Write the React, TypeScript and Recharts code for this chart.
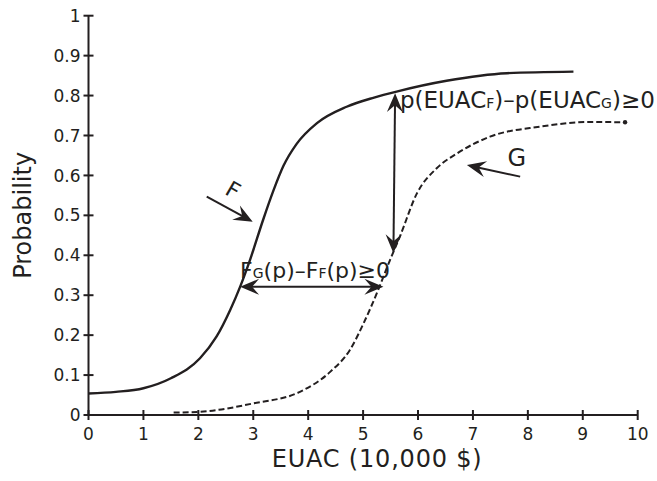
import React from 'react';
import { ComposedChart, Line, XAxis, YAxis, ReferenceLine, ReferenceDot, Label } from 'recharts';

// Curve F (solid)
const curveFx = [0, 0.5, 1.0, 1.5, 2.03, 2.33, 2.58, 2.76, 2.94, 3.18, 3.37, 3.55, 3.79, 4.16, 4.7, 5.2, 5.61, 6.52, 7.62, 8.83];
const curveFy = [0.054, 0.058, 0.067, 0.092, 0.142, 0.196, 0.263, 0.321, 0.388, 0.489, 0.563, 0.624, 0.679, 0.731, 0.772, 0.795, 0.81, 0.837, 0.856, 0.86];
// Curve G (dashed)
const curveGx = [1.55, 2.03, 3.0, 3.85, 4.4, 4.76, 5.01, 5.25, 5.49, 5.67, 5.98, 6.34, 6.71, 7.31, 8.22, 9.13, 9.77];
const curveGy = [0.006, 0.008, 0.029, 0.058, 0.108, 0.163, 0.23, 0.305, 0.388, 0.447, 0.555, 0.618, 0.655, 0.697, 0.722, 0.734, 0.733];

const xTicks = [0, 1, 2, 3, 4, 5, 6, 7, 8, 9, 10];
const yTicks = [0, 0.1, 0.2, 0.3, 0.4, 0.5, 0.6, 0.7, 0.8, 0.9, 1];
const yTickLabels = ['0', '0.1', '0.2', '0.3', '0.4', '0.5', '0.6', '0.7', '0.8', '0.9', '1'];

// Annotation arrows [x1, y1, x2, y2] in data units
const arrowVertical = [5.583, 0.806, 5.552, 0.405];
const arrowHorizontal = [2.76, 0.321, 5.37, 0.321];
const arrowF = [2.153, 0.547, 2.99, 0.484];
const arrowG = [7.86, 0.597, 6.89, 0.626];

// Annotation text anchors
const labelPAt = [5.67, 0.769];
const labelFGAt = [2.76, 0.343];
const labelFAt = [2.63, 0.563];
const labelGAt = [7.8, 0.644];

const INK = '#231f20';
const FONT = '"DejaVu Sans", sans-serif';

const fData = curveFx.map((x, i) => ({ x, y: curveFy[i] }));
const gData = curveGx.map((x, i) => ({ x, y: curveGy[i] }));

const headPoly = (tx: number, ty: number, ux: number, uy: number) => {
  const L = 19, W = 8, N = 12;
  const nx = -uy, ny = ux;
  return `${tx},${ty} ${tx - L * ux + W * nx},${ty - L * uy + W * ny} ${tx - N * ux},${ty - N * uy} ${tx - L * ux - W * nx},${ty - L * uy - W * ny}`;
};

const arrowShape = (both: boolean) => (p: any) => {
  const { x1, y1, x2, y2 } = p;
  const dx = x2 - x1, dy = y2 - y1;
  const len = Math.sqrt(dx * dx + dy * dy) || 1;
  const ux = dx / len, uy = dy / len;
  const sx = both ? x1 + ux * 10 : x1;
  const sy = both ? y1 + uy * 10 : y1;
  const ex = x2 - ux * 10, ey = y2 - uy * 10;
  return (
    <g>
      <line x1={sx} y1={sy} x2={ex} y2={ey} stroke={INK} strokeWidth={2} />
      <polygon points={headPoly(x2, y2, ux, uy)} fill={INK} />
      {both && <polygon points={headPoly(x1, y1, -ux, -uy)} fill={INK} />}
    </g>
  );
};

const SUB = 14;
const textPShape = (p: any) => (
  <text x={p.cx} y={p.cy} fill={INK} fontSize={23} fontFamily={FONT}>
    <tspan>p(EUAC</tspan>
    <tspan fontSize={SUB}>F</tspan>
    <tspan>)–p(EUAC</tspan>
    <tspan fontSize={SUB}>G</tspan>
    <tspan>)≥0</tspan>
  </text>
);
const textFGShape = (p: any) => (
  <text x={p.cx} y={p.cy} fill={INK} fontSize={22} fontFamily={FONT}>
    <tspan>F</tspan>
    <tspan fontSize={SUB}>G</tspan>
    <tspan>(p)–F</tspan>
    <tspan fontSize={SUB}>F</tspan>
    <tspan>(p)≥0</tspan>
  </text>
);
const textFShape = (p: any) => (
  <text x={p.cx} y={p.cy} fill={INK} fontSize={22} fontFamily={FONT} textAnchor="middle" dominantBaseline="central"
    transform={`rotate(30, ${p.cx}, ${p.cy})`}>F</text>
);
const textGShape = (p: any) => (
  <text x={p.cx} y={p.cy} fill={INK} fontSize={24} fontFamily={FONT} textAnchor="middle" dominantBaseline="central">G</text>
);

const XTick = (p: any) => {
  const { x, y, payload } = p;
  return (
    <g>
      <line x1={x} x2={x} y1={y - 18} y2={y - 8} stroke={INK} strokeWidth={2} />
      <text x={x} y={y} dy="0.73em" textAnchor="middle" fill={INK} fontSize={17} fontFamily={FONT}>{payload.value}</text>
    </g>
  );
};
const YTick = (p: any) => {
  const { x, y, payload, index } = p;
  const idx = yTicks.indexOf(payload.value);
  return (
    <g>
      <line x1={x + 3} x2={x + 13} y1={y} y2={y} stroke={INK} strokeWidth={2} />
      <text x={x} y={y} dy="0.36em" textAnchor="end" fill={INK} fontSize={17} fontFamily={FONT}>{yTickLabels[idx >= 0 ? idx : index]}</text>
    </g>
  );
};

const YTitle = (p: any) => {
  const vb = p.viewBox || { x: 0, y: 0, width: 0, height: 0 };
  const cx = vb.x + 23;
  const cy = vb.y + vb.height / 2;
  return (
    <text x={cx} y={cy} textAnchor="middle" dominantBaseline="central" fill={INK} fontSize={24} fontFamily={FONT}
      transform={`rotate(-90, ${cx}, ${cy})`}>Probability</text>
  );
};
const XTitle = (p: any) => {
  const vb = p.viewBox || { x: 0, y: 0, width: 0, height: 0 };
  const cx = vb.x + vb.width / 2 + 14;
  const cy = vb.y + 52;
  return (
    <text x={cx} y={cy} textAnchor="middle" fill={INK} fontSize={24} letterSpacing={0.8} fontFamily={FONT}>EUAC (10,000 $)</text>
  );
};

const EndDot = (p: any) => {
  if (p.index !== gData.length - 1) return <g key={p.index} />;
  return <circle key={p.index} cx={p.cx} cy={p.cy} r={2.2} fill={INK} />;
};

export default function App() {
  return (
    <div style={{ position: 'absolute', left: 0, top: 0, width: 657, height: 481, background: '#fff' }}>
      <ComposedChart width={657} height={481} margin={{ top: 15.7, right: 19.3, bottom: 0, left: 0 }}>
        <XAxis dataKey="x" type="number" domain={[0, 10]} ticks={xTicks} interval={0} height={66}
          axisLine={{ stroke: INK, strokeWidth: 2 }} tickLine={false} tickSize={5} tickMargin={8} tick={<XTick />} allowDataOverflow>
          <Label content={<XTitle />} />
        </XAxis>
        <YAxis type="number" domain={[0, 1]} ticks={yTicks} interval={0} width={88.5}
          axisLine={{ stroke: INK, strokeWidth: 2 }} tickLine={false} tickSize={5} tickMargin={3} tick={<YTick />} allowDataOverflow>
          <Label content={<YTitle />} />
        </YAxis>
        <Line data={fData} dataKey="y" type="monotone" stroke={INK} strokeWidth={2.4} dot={false} isAnimationActive={false} />
        <Line data={gData} dataKey="y" type="monotone" stroke={INK} strokeWidth={2} strokeDasharray="6 3" dot={<EndDot />} isAnimationActive={false} />
        <ReferenceLine segment={[{ x: arrowVertical[0], y: arrowVertical[1] }, { x: arrowVertical[2], y: arrowVertical[3] }]} shape={arrowShape(true)} ifOverflow="visible" />
        <ReferenceLine segment={[{ x: arrowHorizontal[0], y: arrowHorizontal[1] }, { x: arrowHorizontal[2], y: arrowHorizontal[3] }]} shape={arrowShape(true)} ifOverflow="visible" />
        <ReferenceLine segment={[{ x: arrowF[0], y: arrowF[1] }, { x: arrowF[2], y: arrowF[3] }]} shape={arrowShape(false)} ifOverflow="visible" />
        <ReferenceLine segment={[{ x: arrowG[0], y: arrowG[1] }, { x: arrowG[2], y: arrowG[3] }]} shape={arrowShape(false)} ifOverflow="visible" />
        <ReferenceDot x={labelPAt[0]} y={labelPAt[1]} r={0} shape={textPShape} ifOverflow="visible" />
        <ReferenceDot x={labelFGAt[0]} y={labelFGAt[1]} r={0} shape={textFGShape} ifOverflow="visible" />
        <ReferenceDot x={labelFAt[0]} y={labelFAt[1]} r={0} shape={textFShape} ifOverflow="visible" />
        <ReferenceDot x={labelGAt[0]} y={labelGAt[1]} r={0} shape={textGShape} ifOverflow="visible" />
      </ComposedChart>
    </div>
  );
}
